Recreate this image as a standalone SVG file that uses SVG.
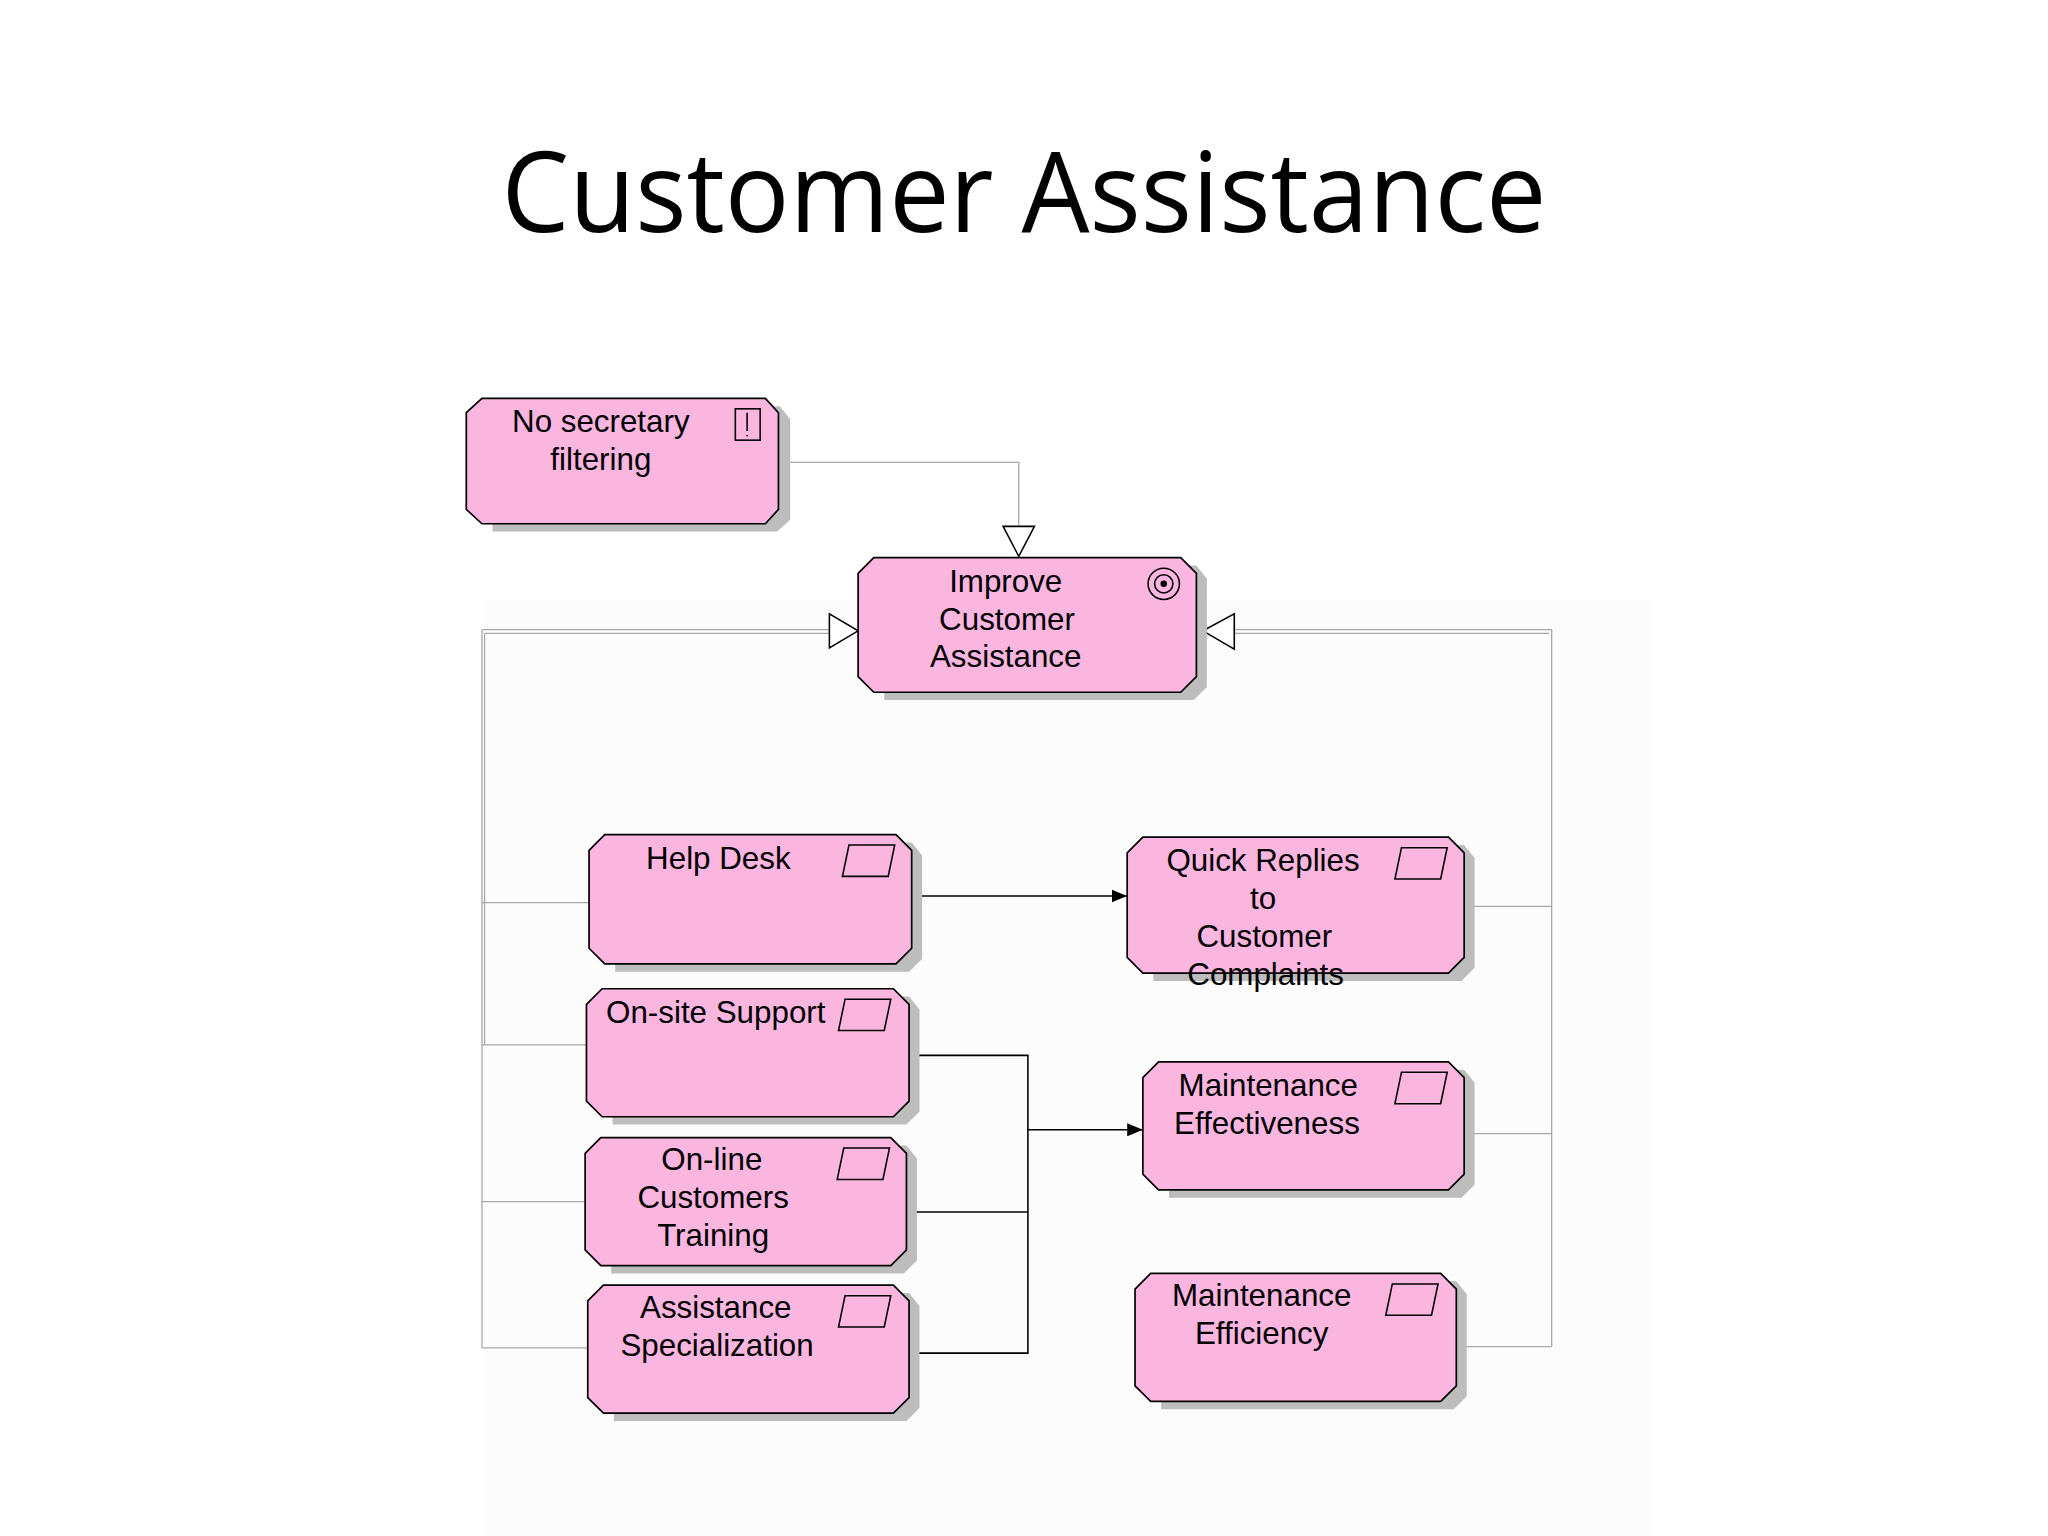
<svg xmlns="http://www.w3.org/2000/svg" width="2048" height="1536" viewBox="0 0 2048 1536">
<style>
.n{fill:#fbb6e0;stroke:#000;stroke-width:1.3}
.sh{fill:#bdbdbd}
.t{font-family:"Liberation Sans",Arial,sans-serif;font-size:24px;fill:#000;text-anchor:middle}
.g{stroke:#a8a8a8;stroke-width:1;fill:none}
.b{stroke:#000;stroke-width:1.2;fill:none}
.ic{fill:none;stroke:#000;stroke-width:1.2}
.tri{fill:#fff;stroke:#000;stroke-width:1.2}
</style>
<defs>
<marker id="ar" markerWidth="12" markerHeight="10" refX="12" refY="5" orient="auto" markerUnits="userSpaceOnUse"><path d="M0,0 L12,5 L0,10 z" fill="#000"/></marker>
</defs>
<rect width="2048" height="1536" fill="#fff"/>
<rect x="482" y="600" width="1170" height="936" fill="#fcfcfc"/>
<text x="1024" y="232" font-family="'Open Sans','Liberation Sans',sans-serif" font-size="112" text-anchor="middle" textLength="1045" lengthAdjust="spacingAndGlyphs">Customer Assistance</text>
<g transform="scale(1.30612)">
<g id="connectors">
<path class="g" d="M598,354 H780 V403"/>
<polygon class="tri" points="768,403 792,403 780,426"/>
<path class="g" d="M369,482 H635 M371,485 H635 M369,482 V1032 M371,485 V800 M369,691 H451 M369,800 H449 M369,920 H448 M369,1032 H450"/>
<polygon class="tri" points="635,470 635,496 657,483"/>
<path class="g" d="M945,482 H1188 M945,485 H1186 M1188,482 V1031 M1121,694 H1188 M1121,868 H1188 M1115,1031 H1188"/>
<polygon class="tri" points="945,470 945,497 921,483"/>
<path class="b" d="M703,686 H863" marker-end="url(#ar)"/>
<path class="b" d="M700,808 H787 V1036 H698 M697,928 H787"/>
<path class="b" d="M787,865 H875" marker-end="url(#ar)"/>
</g>
<g id="n1">
<polygon class="sh" points="377,311 597,311 605,321 605,398 595,407 377,407"/>
<polygon class="n" points="369,305 586,305 596,316 596,390 586,401 369,401 357,390 357,316"/>
<rect class="ic" x="563" y="313" width="19" height="24"/><path class="b" d="M572,316 V330 M572,333 V334"/>
<text class="t" x="460" y="331">No secretary</text><text class="t" x="460" y="360">filtering</text>
</g>
<g id="n2">
<polygon class="sh" points="677,433 916,433 924,443 924,526 914,536 677,536"/>
<polygon class="n" points="669,427 904,427 916,439 916,518 904,530 669,530 657,518 657,439"/>
<circle class="ic" cx="891" cy="447" r="12"/><circle class="ic" cx="891" cy="447" r="7"/><circle cx="891" cy="447" r="2.5"/>
<text class="t" x="770" y="453">Improve</text><text class="t" x="771" y="482">Customer</text><text class="t" x="770" y="511">Assistance</text>
</g>
<g id="n3">
<polygon class="sh" points="471,645 698,645 706,655 706,734 696,744 471,744"/>
<polygon class="n" points="463,639 686,639 698,651 698,726 686,738 463,738 451,726 451,651"/>
<polygon class="ic" points="650,647 685,647 680,671 645,671"/>
<text class="t" x="550" y="665">Help Desk</text>
</g>
<g id="n4">
<polygon class="sh" points="469,763 696,763 704,773 704,851 694,861 469,861"/>
<polygon class="n" points="461,757 684,757 696,769 696,843 684,855 461,855 449,843 449,769"/>
<polygon class="ic" points="647,765 682,765 677,789 642,789"/>
<text class="t" x="548" y="783">On-site Support</text>
</g>
<g id="n5">
<polygon class="sh" points="468,877 694,877 702,887 702,965 692,975 468,975"/>
<polygon class="n" points="460,871 682,871 694,883 694,957 682,969 460,969 448,957 448,883"/>
<polygon class="ic" points="646,879 681,879 676,903 641,903"/>
<text class="t" x="545" y="896">On-line</text><text class="t" x="546" y="925">Customers</text><text class="t" x="546" y="954">Training</text>
</g>
<g id="n6">
<polygon class="sh" points="470,990 696,990 704,1000 704,1078 694,1088 470,1088"/>
<polygon class="n" points="462,984 684,984 696,996 696,1070 684,1082 462,1082 450,1070 450,996"/>
<polygon class="ic" points="647,992 682,992 677,1016 642,1016"/>
<text class="t" x="548" y="1009">Assistance</text><text class="t" x="549" y="1038">Specialization</text>
</g>
<g id="n7">
<polygon class="sh" points="883,647 1121,647 1129,657 1129,741 1119,751 883,751"/>
<polygon class="n" points="875,641 1109,641 1121,653 1121,733 1109,745 875,745 863,733 863,653"/>
<polygon class="ic" points="1073,649 1108,649 1103,673 1068,673"/>
<text class="t" x="967" y="667">Quick Replies</text><text class="t" x="967" y="696">to</text><text class="t" x="968" y="725">Customer</text><text class="t" x="969" y="754">Complaints</text>
</g>
<g id="n8">
<polygon class="sh" points="895,819 1121,819 1129,829 1129,907 1119,917 895,917"/>
<polygon class="n" points="887,813 1109,813 1121,825 1121,899 1109,911 887,911 875,899 875,825"/>
<polygon class="ic" points="1073,821 1108,821 1103,845 1068,845"/>
<text class="t" x="971" y="839">Maintenance</text><text class="t" x="970" y="868">Effectiveness</text>
</g>
<g id="n9">
<polygon class="sh" points="889,981 1115,981 1123,991 1123,1069 1113,1079 889,1079"/>
<polygon class="n" points="881,975 1103,975 1115,987 1115,1061 1103,1073 881,1073 869,1061 869,987"/>
<polygon class="ic" points="1066,983 1101,983 1096,1007 1061,1007"/>
<text class="t" x="966" y="1000">Maintenance</text><text class="t" x="966" y="1029">Efficiency</text>
</g>
</g>
</svg>
